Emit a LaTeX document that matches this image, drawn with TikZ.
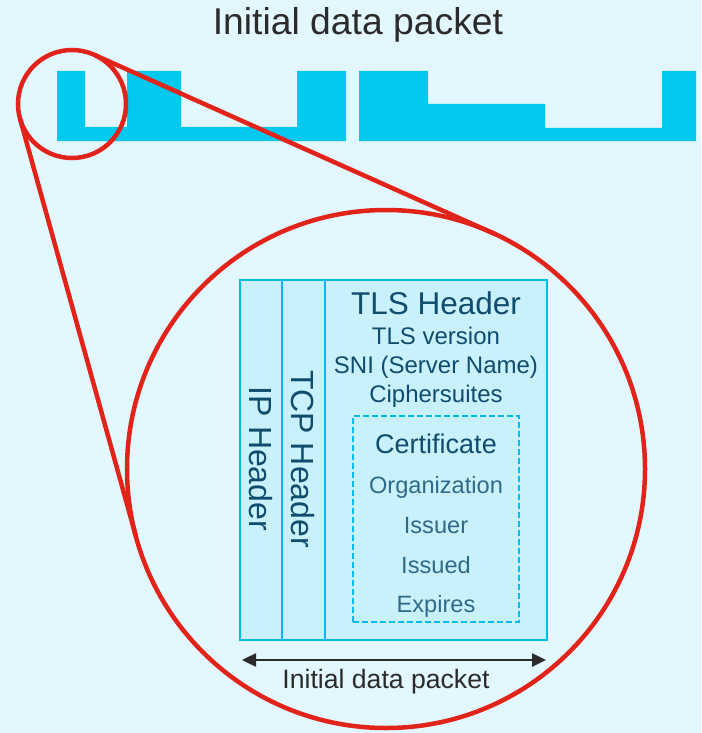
\documentclass[tikz,border=0pt]{standalone}
\usepackage{fontspec}
\setmainfont{Liberation Sans}
\usetikzlibrary{arrows.meta}
\definecolor{bgc}{HTML}{E3F7FE}
\definecolor{pkt}{HTML}{00C8EE}
\definecolor{zred}{HTML}{E2231A}
\definecolor{boxfill}{HTML}{C9F1FB}
\definecolor{boxline}{HTML}{00BCEB}
\definecolor{txtblue}{HTML}{0F4C6E}
\definecolor{txtlight}{HTML}{2F6A88}
\definecolor{txtgray}{HTML}{2B2B2B}
\begin{document}
\begin{tikzpicture}[x=1pt,y=-1pt,
  packet/.style={fill=pkt},
  zoomring/.style={draw=zred,line width=4.5pt,circle,inner sep=0pt,outer sep=0pt},
  zoomline/.style={draw=zred,line width=4.5pt},
  hdrbox/.style={draw=boxline,fill=boxfill,line width=1.8pt,inner sep=0pt,outer sep=0pt},
  certbox/.style={draw=boxline,line width=1.8pt,dashed,dash pattern=on 6pt off 3pt,inner sep=0pt,outer sep=0pt},
  hdrtext/.style={text=txtblue,font=\fontsize{32}{36}\selectfont,rotate=-90,inner sep=0pt},
  tlstitle/.style={text=txtblue,font=\fontsize{31.5}{36}\selectfont,anchor=base,inner sep=0pt},
  tlsitem/.style={text=txtblue,font=\fontsize{24}{28}\selectfont,anchor=base,inner sep=0pt},
  certtitle/.style={text=txtblue,font=\fontsize{27}{30}\selectfont,anchor=base,inner sep=0pt},
  certitem/.style={text=txtlight,font=\fontsize{23.6}{28}\selectfont,anchor=base,inner sep=0pt},
  label/.style={text=txtgray,anchor=base,inner sep=0pt},
  dimarrow/.style={draw=txtgray,line width=2.5pt,{Triangle[length=14pt,width=13pt]}-{Triangle[length=14pt,width=13pt]}}
]
\useasboundingbox (0,0) rectangle (701,733);
\fill[bgc] (0,0) rectangle (701,733);

% title
\node[label,font=\fontsize{37.3}{40}\selectfont] (title) at (358,35) {Initial data packet};

% packet outline
\fill[packet] (57,71) -- (85,71) -- (85,127) -- (127,127) -- (127,71) -- (181,71) -- (181,127)
  -- (297,127) -- (297,71) -- (346,71) -- (346,141) -- (57,141) -- cycle;
\fill[packet] (359,71) -- (428,71) -- (428,104) -- (545,104) -- (545,128) -- (662,128)
  -- (662,71) -- (696,71) -- (696,141) -- (359,141) -- cycle;

% header boxes
\node[hdrbox,minimum width=42pt,minimum height=360pt] (ipbox) at (261,460) {};
\node[hdrbox,minimum width=43pt,minimum height=360pt] (tcpbox) at (303.5,460) {};
\node[hdrbox,minimum width=222pt,minimum height=360pt] (tlsbox) at (436,460) {};
\node[certbox,minimum width=166pt,minimum height=206pt] (certbox) at (436,519) {};

\node[hdrtext] (iptext) at (261,459) {IP Header};
\node[hdrtext] (tcptext) at (303,459) {TCP Header};

\node[tlstitle] (tlsh) at (436,314) {TLS Header};
\node[tlsitem] (tlsv) at (436,344) {TLS version};
\node[tlsitem] (sni) at (436,373) {SNI (Server Name)};
\node[tlsitem] (ciph) at (436,402) {Ciphersuites};
\node[certtitle] (cert) at (436,453) {Certificate};
\node[certitem] (org) at (436,493) {Organization};
\node[certitem] (issuer) at (436,533) {Issuer};
\node[certitem] (issued) at (436,573) {Issued};
\node[certitem] (expires) at (436,612) {Expires};

% dimension arrow
\coordinate (arrl) at (242,660);
\coordinate (arrr) at (546,660);
\draw[dimarrow] (arrl) -- (arrr);
\node[label,font=\fontsize{26.6}{30}\selectfont] (bottomlabel) at (386,688) {Initial data packet};

% zoom circles
\node[zoomring,minimum size=108pt] (zsmall) at (72,104) {};
\node[zoomring,minimum size=518pt] (zbig) at (386,469) {};
\draw[zoomline] (zsmall.65.9) -- (zbig.65.9);
\draw[zoomline] (zsmall.195.5) -- (zbig.195.5);
\end{tikzpicture}
\end{document}
